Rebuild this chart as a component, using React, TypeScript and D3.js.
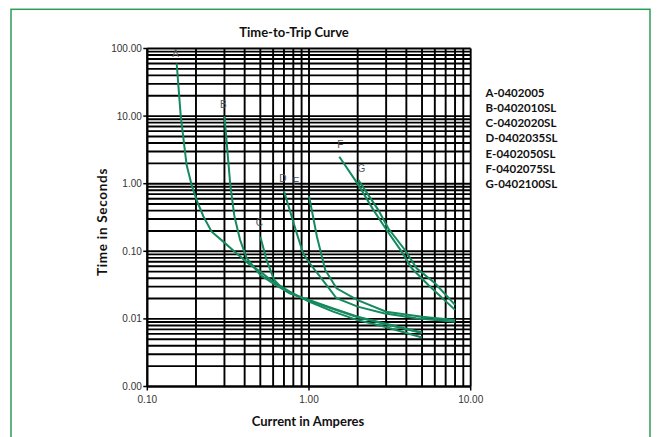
import React from "react";
import * as d3 from "d3";

const xTickValues = [0.1, 1, 10];
const xTickLabels = ["0.10", "1.00", "10.00"];
const yTickValues = [0.001, 0.01, 0.1, 1, 10, 100];
const yTickLabels = ["0.00", "0.01", "0.10", "1.00", "10.00", "100.00"];

const curveA: [number, number][] = [
  [0.152, 60], [0.161, 10], [0.175, 1.9], [0.188, 0.96], [0.202, 0.57], [0.222, 0.33],
  [0.25, 0.195], [0.295, 0.139], [0.357, 0.093], [0.432, 0.063], [0.5, 0.05], [0.6, 0.0355],
  [0.76, 0.0253], [1.0, 0.018], [1.41, 0.0128], [2.0, 0.0096], [2.9, 0.0077], [5, 0.0053],
];
const curveB: [number, number][] = [
  [0.3, 10], [0.326, 0.96], [0.345, 0.34], [0.35, 0.29], [0.375, 0.147], [0.412, 0.079],
  [0.5, 0.0447], [0.6, 0.0336], [0.76, 0.0239], [1.0, 0.019], [1.41, 0.0143], [2.0, 0.0108],
  [2.9, 0.0086], [5, 0.0063],
];
const curveC: [number, number][] = [
  [0.5, 0.164], [0.547, 0.074], [0.608, 0.038], [0.68, 0.0284], [0.76, 0.0242], [1.0, 0.0186],
  [1.41, 0.014], [2.0, 0.0106], [2.9, 0.0085], [5, 0.0062],
];
const curveD: [number, number][] = [
  [0.7, 0.78], [0.84, 0.185], [0.92, 0.093], [1.01, 0.0665], [1.26, 0.0336], [1.48, 0.0202],
  [2.0, 0.0152], [2.9, 0.0121], [4.6, 0.0102], [8, 0.0091],
];
const curveE: [number, number][] = [
  [1.0, 0.66], [1.12, 0.164], [1.26, 0.053], [1.48, 0.0284], [2.0, 0.019], [3.0, 0.0128],
  [5.0, 0.0108], [8, 0.0096],
];
const curveF: [number, number][] = [
  [1.54, 2.5], [2.02, 0.96], [2.5, 0.41], [3.02, 0.207], [3.74, 0.099], [4.32, 0.056],
  [5.47, 0.0317], [8, 0.0136],
];
const curveG: [number, number][] = [
  [2.02, 1.13], [2.68, 0.41], [3.09, 0.219], [3.92, 0.1045], [4.63, 0.056], [6.02, 0.0336],
  [8, 0.0161],
];

const curves = [curveA, curveB, curveC, curveD, curveE, curveF, curveG];
const curveLetters = ["A", "B", "C", "D", "E", "F", "G"];
const legendLabels = [
  "A-0402005", "B-0402010SL", "C-0402020SL", "D-0402035SL",
  "E-0402050SL", "F-0402075SL", "G-0402100SL",
];

const W = 661;
const H = 437;
const L = 147.3, R = 470.7, T = 48.5, B = 386.5;

export default function App() {
  const x = d3.scaleLog().domain([0.1, 10]).range([L, R]);
  const y = d3.scaleLog().domain([0.001, 100]).range([B, T]);

  const xGrid: number[] = [];
  for (let e = -1; e < 1; e++) for (let m = 1; m <= 9; m++) xGrid.push(m * Math.pow(10, e));
  xGrid.push(10);
  const yGrid: number[] = [];
  for (let e = -3; e < 2; e++) for (let m = 1; m <= 9; m++) yGrid.push(m * Math.pow(10, e));
  yGrid.push(100);

  const line = d3
    .line<[number, number]>()
    .x((d) => x(d[0]))
    .y((d) => y(d[1]));

  const green = "#148a5e";
  const sans = "'Liberation Sans', Arial, sans-serif";
  const bold = "Lato, 'Open Sans', sans-serif";

  return (
    <svg
      width={W}
      height={H}
      style={{ position: "absolute", left: 0, top: 0, background: "#fff" }}
    >
      <rect x={11} y={9.3} width={639} height={440} fill="#fff" stroke="#2e9b57" strokeWidth={1.5} />
      <text x={294} y={36.5} textAnchor="middle" fontFamily={bold} fontWeight="bold" fontSize={13} fill="#111">
        Time-to-Trip Curve
      </text>
      {/* grid */}
      {xGrid.map((v, i) => (
        <line key={"xg" + i} x1={x(v)} x2={x(v)} y1={T} y2={B} stroke="#000" strokeWidth={1.9} />
      ))}
      {yGrid.map((v, i) => (
        <line key={"yg" + i} x1={L} x2={R} y1={y(v)} y2={y(v)} stroke="#000" strokeWidth={1.9} />
      ))}
      {/* axes ticks */}
      {yTickValues.map((v, i) => (
        <g key={"yt" + i}>
          <line x1={L - 4} x2={L} y1={y(v)} y2={y(v)} stroke="#000" strokeWidth={1.5} />
          <text x={L - 5.5} y={y(v) + 3.5} textAnchor="end" fontFamily={sans} fontSize={10} fill="#333">
            {yTickLabels[i]}
          </text>
        </g>
      ))}
      {xTickValues.map((v, i) => (
        <g key={"xt" + i}>
          <line x1={x(v)} x2={x(v)} y1={B} y2={B + 4} stroke="#000" strokeWidth={1.5} />
          <text x={x(v)} y={B + 16} textAnchor="middle" fontFamily={sans} fontSize={10} fill="#333">
            {xTickLabels[i]}
          </text>
        </g>
      ))}
      <line x1={L} x2={L} y1={T} y2={B} stroke="#000" strokeWidth={2} />
      <line x1={L} x2={R} y1={B} y2={B} stroke="#000" strokeWidth={2} />
      {/* curves */}
      {curves.map((c, i) => (
        <path key={"c" + i} d={line(c) || ""} fill="none" stroke={green} strokeWidth={2} />
      ))}
      {/* curve letters */}
      {curves.map((c, i) => {
        const offsets: [number, number][] = [[-1, -6], [-1, -8], [-1, -11], [-1, -9], [-13, -11], [1, -9], [3, -8]];
        return (
          <text
            key={"l" + i}
            x={x(c[0][0]) + offsets[i][0]}
            y={y(c[0][1]) + offsets[i][1]}
            textAnchor="middle"
            fontFamily={sans}
            fontSize={10}
            fill="#555"
          >
            {curveLetters[i]}
          </text>
        );
      })}
      {/* legend */}
      {legendLabels.map((s, i) => (
        <text key={"lg" + i} x={485.5} y={96.5 + i * 15.3} fontFamily={bold} fontWeight="bold" fontSize={11.5} fill="#111">
          {s}
        </text>
      ))}
      <text x={308} y={426} textAnchor="middle" fontFamily={bold} fontWeight="bold" fontSize={13} fill="#111">
        Current in Amperes
      </text>
      <text
        transform={`translate(107,222) rotate(-90)`}
        textAnchor="middle"
        fontFamily={bold}
        fontWeight="bold"
        fontSize={13.5}
        fill="#111"
        letterSpacing={0.7}
      >
        Time in Seconds
      </text>
    </svg>
  );
}
